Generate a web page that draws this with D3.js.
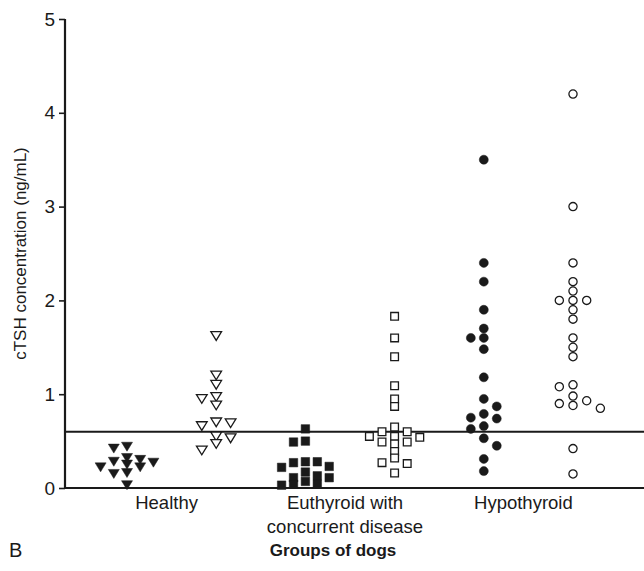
<!DOCTYPE html>
<html>
<head>
<meta charset="utf-8">
<script src="https://cdn.jsdelivr.net/npm/d3@7/dist/d3.min.js"></script>
<style>
  body { margin: 0; background: #fff; }
  text { font-family: "Liberation Sans", Arial, Helvetica, sans-serif; fill: #1a1a1a; }
</style>
</head>
<body>
<svg id="chart" width="644" height="571"></svg>
<script>
// cTSH concentrations (ng/mL) per group of dogs; filled = first assay column, open = second
const groupLabels = [["Healthy"], ["Euthyroid with", "concurrent disease"], ["Hypothyroid"]];
const healthyFilled = [0.44, 0.42, 0.32, 0.30, 0.28, 0.27, 0.25, 0.22, 0.22, 0.16, 0.15, 0.03];
const healthyOpen = [1.62, 1.20, 1.10, 0.97, 0.95, 0.88, 0.70, 0.69, 0.66, 0.55, 0.53, 0.47, 0.40];
const euthyroidFilled = [0.63, 0.50, 0.49, 0.28, 0.28, 0.27, 0.23, 0.22, 0.17, 0.13, 0.11, 0.11, 0.07, 0.04, 0.04, 0.03];
const euthyroidOpen = [1.83, 1.60, 1.40, 1.09, 0.95, 0.87, 0.65, 0.60, 0.60, 0.55, 0.54, 0.55, 0.49, 0.47, 0.49, 0.39, 0.32, 0.27, 0.26, 0.16];
const hypoFilled = [3.5, 2.4, 2.2, 1.9, 1.7, 1.6, 1.6, 1.48, 1.18, 0.95, 0.87, 0.79, 0.75, 0.74, 0.66, 0.63, 0.53, 0.45, 0.31, 0.18];
const hypoOpen = [4.2, 3.0, 2.4, 2.2, 2.1, 2.0, 2.0, 2.0, 1.9, 1.8, 1.6, 1.5, 1.4, 1.1, 1.08, 0.98, 0.93, 0.9, 0.88, 0.85, 0.42, 0.15];
const cutoff = 0.6;
const yTicks = [0, 1, 2, 3, 4, 5];
const yTitle = "cTSH concentration (ng/mL)";
const xTitle = "Groups of dogs";
const panelLetter = "B";

const columns = [
  { key: "hf", group: 0, values: healthyFilled, shape: "triDown", filled: true },
  { key: "ho", group: 0, values: healthyOpen, shape: "triDown", filled: false },
  { key: "ef", group: 1, values: euthyroidFilled, shape: "square", filled: true },
  { key: "eo", group: 1, values: euthyroidOpen, shape: "square", filled: false },
  { key: "pf", group: 2, values: hypoFilled, shape: "circle", filled: true },
  { key: "po", group: 2, values: hypoOpen, shape: "circle", filled: false }
];

const W = 644, H = 571;
const margin = { left: 65, top: 19, bottom: 83 };
const ink = "#1a1a1a";

const svg = d3.select("#chart");

const y = d3.scaleLinear().domain([0, 5]).range([H - margin.bottom, margin.top]);
const x = d3.scalePoint().domain(columns.map(c => c.key)).range([127, 573]);

// marker geometry (pixel size per shape and fill) and how tightly markers may pack
const markerSize = {
  triDown: { filled: { w: 11, h: 9 }, open: { w: 12, h: 10 } },
  square: { filled: { w: 8.5, h: 8.5 }, open: { w: 9, h: 9 } },
  circle: { filled: { w: 9, h: 9 }, open: { w: 9.5, h: 9.5 } }
};
const packing = {
  triDown: { step: 0.6, minDx: 0.95, minDy: 0.72 },
  square: { step: 0.7, minDx: 0.95, minDy: 0.72 },
  circle: { step: 0.72, minDx: 1.15, minDy: 0.95 }
};

function markerPath(shape, s) {
  if (shape === "triDown") {
    return `M${-s.w / 2},${-s.h / 2}L${s.w / 2},${-s.h / 2}L0,${s.h / 2}Z`;
  }
  if (shape === "square") {
    return `M${-s.w / 2},${-s.h / 2}h${s.w}v${s.h}h${-s.w}Z`;
  }
  const r = s.w / 2;
  return `M${-r},0a${r},${r} 0 1,0 ${2 * r},0a${r},${r} 0 1,0 ${-2 * r},0Z`;
}

// Spread coincident values sideways into lanes so markers do not hide each other
function dodge(values, s, pk) {
  const step = s.w * pk.step;
  const placed = [];
  values.slice().sort((a, b) => b - a).forEach(v => {
    const py = y(v);
    const left = placed.filter(p => p.lane < 0).length, right = placed.filter(p => p.lane > 0).length;
    const order = [0];
    for (let k = 1; k < 12; k++) {
      if (left <= right) order.push(-k, k); else order.push(k, -k);
    }
    for (const lane of order) {
      const ok = placed.every(p => Math.abs(p.lane - lane) * step >= s.w * pk.minDx || Math.abs(p.py - py) >= s.h * pk.minDy);
      if (ok) { placed.push({ v, py, lane, dx: lane * step }); break; }
    }
  });
  return placed;
}

// y axis
const yAxis = d3.axisLeft(y).tickValues(yTicks).tickFormat(d3.format("d")).tickSize(6).tickPadding(4);
const gy = svg.append("g").attr("transform", `translate(${margin.left},0)`).call(yAxis);
gy.select(".domain").attr("stroke", ink).attr("stroke-width", 2.2).attr("d", `M0,${y(5)}V${y(0)}`);
gy.selectAll(".tick line").attr("stroke", ink).attr("stroke-width", 1.6);
gy.selectAll(".tick text").attr("font-size", 19).attr("fill", ink)
  .attr("font-family", "'Liberation Sans', Arial, sans-serif");

// x axis baseline
svg.append("line")
  .attr("x1", margin.left).attr("x2", W).attr("y1", y(0)).attr("y2", y(0))
  .attr("stroke", ink).attr("stroke-width", 2.2);

// cutoff line
svg.append("line")
  .attr("x1", margin.left).attr("x2", W).attr("y1", y(cutoff)).attr("y2", y(cutoff))
  .attr("stroke", ink).attr("stroke-width", 2);

// points
columns.forEach(c => {
  const s = markerSize[c.shape][c.filled ? "filled" : "open"];
  const pts = dodge(c.values, s, packing[c.shape]);
  svg.append("g").selectAll("path").data(pts).join("path")
    .attr("transform", d => `translate(${x(c.key) + d.dx},${d.py})`)
    .attr("d", markerPath(c.shape, c.filled ? s : { w: s.w - 1.3, h: s.h - 1.3 }))
    .attr("fill", c.filled ? ink : "#fff")
    .attr("stroke", ink)
    .attr("stroke-width", c.filled ? 0.5 : 1.3);
});

// group labels centred under each pair of columns
groupLabels.forEach((lines, gi) => {
  const cols = columns.filter(c => c.group === gi).map(c => x(c.key));
  const cx = d3.mean(cols) - 5;
  const t = svg.append("text").attr("x", cx).attr("y", 509).attr("text-anchor", "middle").attr("font-size", 18.5);
  lines.forEach((ln, i) => t.append("tspan").attr("x", cx).attr("dy", i === 0 ? 0 : 24).text(ln));
});

// axis titles
svg.append("text")
  .attr("transform", `translate(26,${(y(0) + y(5)) / 2}) rotate(-90)`)
  .attr("text-anchor", "middle").attr("font-size", 17).text(yTitle);

svg.append("text").attr("x", 333).attr("y", 556).attr("text-anchor", "middle")
  .attr("font-size", 17).attr("font-weight", "bold").text(xTitle);

svg.append("text").attr("x", 9).attr("y", 557).attr("font-size", 20).text(panelLetter);
</script>
</body>
</html>
